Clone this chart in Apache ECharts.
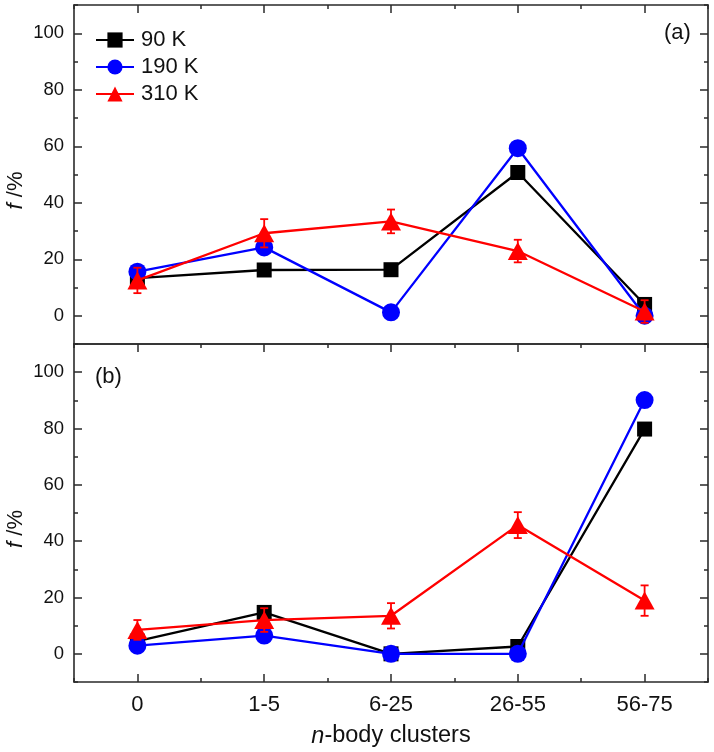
<!DOCTYPE html>
<html><head><meta charset="utf-8">
<script src="https://cdn.jsdelivr.net/npm/echarts@6/dist/echarts.min.js"></script>
<style>html,body{margin:0;padding:0;background:#fff}#c{width:714px;height:752px}</style>
</head><body><div id="c"></div>
<script>
// ---- data ----
const categories = ['0', '1-5', '6-25', '26-55', '56-75'];
const yTickLabels = ['0', '20', '40', '60', '80', '100'];
const seriesNames = ['90 K', '190 K', '310 K'];
// panel (a)
const a90 = [13.3, 16.2, 16.3, 50.7, 4.0];
const a190 = [15.6, 24.2, 1.2, 59.3, 0.0];
const a310 = [12.5, 29.2, 33.4, 22.9, 1.5];
const a310err = [4.5, 5.0, 4.2, 4.0, 4.0];
// panel (b)
const b90 = [4.5, 14.7, 0.0, 2.6, 79.8];
const b190 = [2.9, 6.5, 0.0, 0.0, 90.1];
const b310 = [8.5, 12.0, 13.5, 45.7, 18.9];
const b310err = [3.5, 4.2, 4.5, 4.6, 5.4];

const FONT = '"Liberation Sans", Arial, sans-serif';
const AX = '#2a2a2a';
const TXT = '#111';
const COLORS = ['#000000', '#0000ff', '#ff0000'];
const SYMBOLS = ['rect', 'circle', 'triangle'];
const SIZES = [15, 18, [20, 18]];

const chart = echarts.init(document.getElementById('c'), null, {renderer: 'canvas'});

const lineSty = {show: true, onZero: false, lineStyle: {color: AX, width: 1.6}};
function xa(grid, pos, kind, extra) {
  const major = kind === 'major';
  const o = {
    type: 'category', gridIndex: grid, position: pos, data: categories, boundaryGap: true,
    axisLine: kind === 'main' || major ? lineSty : {show: false, onZero: false},
    axisTick: kind === 'main' ? {show: false} :
      {show: true, inside: true, interval: 0, alignWithLabel: major, length: major ? 8 : 4, lineStyle: {color: AX, width: 1.5}},
    axisLabel: {show: false},
    splitLine: {show: false}
  };
  return Object.assign(o, extra || {});
}
function yv(grid, pos, extra) {
  return Object.assign({
    type: 'value', gridIndex: grid, position: pos, min: -10, max: 110, interval: 10,
    axisLine: lineSty,
    axisTick: {show: true, inside: true, length: 4, lineStyle: {color: AX, width: 1.5}},
    axisLabel: {show: false}, splitLine: {show: false}
  }, extra || {});
}
function yc(grid, pos, labels) {
  return {
    type: 'category', gridIndex: grid, position: pos, data: yTickLabels, boundaryGap: true,
    axisLine: {show: false, onZero: false},
    axisTick: {show: true, inside: true, alignWithLabel: true, interval: 0, length: 8, lineStyle: {color: AX, width: 1.5}},
    axisLabel: {show: labels, interval: 0, margin: 10, fontSize: 18.5, color: TXT, fontFamily: FONT},
    splitLine: {show: false}
  };
}
const yName = {
  name: '{i|f} /%', nameLocation: 'middle', nameGap: 47,
  nameTextStyle: {fontSize: 22, color: TXT, fontFamily: FONT, padding: [0, 32, 0, 0],
    rich: {i: {fontStyle: 'italic', fontSize: 22, color: TXT, fontFamily: FONT}}}
};

const xAxis = [
  xa(0, 'bottom', 'main'),
  xa(0, 'top', 'major'),
  xa(0, 'top', 'minor'),
  xa(1, 'bottom', 'major', {
    axisLabel: {show: true, interval: 0, margin: 12, fontSize: 22, color: TXT, fontFamily: FONT},
    name: '{i|n}-body clusters', nameLocation: 'middle', nameGap: 42,
    nameTextStyle: {fontSize: 23.5, color: TXT, fontFamily: FONT,
      rich: {i: {fontStyle: 'italic', fontSize: 23.5, color: TXT, fontFamily: FONT}}}
  }),
  xa(1, 'bottom', 'minor'),
  xa(1, 'top', 'major'),
  xa(1, 'top', 'minor')
];
const yAxis = [
  yv(0, 'left', yName), yc(0, 'left', true), yv(0, 'right'), yc(0, 'right', false),
  yv(1, 'left', yName), yc(1, 'left', true), yv(1, 'right'), yc(1, 'right', false)
];

function lineSeries(name, data, idx, xi, yi) {
  return {
    type: 'line', name: name, data: data, xAxisIndex: xi, yAxisIndex: yi,
    symbol: SYMBOLS[idx], symbolSize: SIZES[idx], showAllSymbol: true,
    itemStyle: {color: COLORS[idx]}, lineStyle: {color: COLORS[idx], width: 2.3},
    z: 2 + idx, animation: false
  };
}
function errSeries(means, errs, xi, yi) {
  return {
    type: 'custom', name: 'err', xAxisIndex: xi, yAxisIndex: yi, z: 6, animation: false,
    data: means.map((m, i) => [i, m - errs[i], m + errs[i]]),
    renderItem(params, api) {
      const x = api.value(0);
      const lo = api.coord([x, api.value(1)]);
      const hi = api.coord([x, api.value(2)]);
      const hw = 4;
      const st = {stroke: '#ff0000', lineWidth: 1.8};
      return {type: 'group', children: [
        {type: 'line', shape: {x1: lo[0], y1: lo[1], x2: hi[0], y2: hi[1]}, style: st},
        {type: 'line', shape: {x1: lo[0] - hw, y1: lo[1], x2: lo[0] + hw, y2: lo[1]}, style: st},
        {type: 'line', shape: {x1: hi[0] - hw, y1: hi[1], x2: hi[0] + hw, y2: hi[1]}, style: st}
      ]};
    }
  };
}

const series = [
  lineSeries(seriesNames[0], a90, 0, 0, 0),
  lineSeries(seriesNames[1], a190, 1, 0, 0),
  lineSeries(seriesNames[2], a310, 2, 0, 0),
  errSeries(a310, a310err, 0, 0),
  lineSeries(seriesNames[0], b90, 0, 3, 4),
  lineSeries(seriesNames[1], b190, 1, 3, 4),
  lineSeries(seriesNames[2], b310, 2, 3, 4),
  errSeries(b310, b310err, 3, 4)
];

chart.setOption({
  animation: false,
  backgroundColor: '#fff',
  grid: [
    {left: 74, width: 634, top: 5, height: 339, outerBoundsMode: 'none', containLabel: false},
    {left: 74, width: 634, top: 344, height: 338, outerBoundsMode: 'none', containLabel: false}
  ],
  title: [
    {text: '(a)', left: 664, top: 22, padding: 0, textStyle: {fontSize: 22, fontWeight: 'normal', color: TXT, fontFamily: FONT}},
    {text: '(b)', left: 95, top: 366, padding: 0, textStyle: {fontSize: 22, fontWeight: 'normal', color: TXT, fontFamily: FONT}}
  ],
  legend: {
    data: seriesNames, orient: 'vertical', left: 95, top: 29, padding: 0,
    itemWidth: 38, itemHeight: 19, itemGap: 5,
    textStyle: {fontSize: 22, color: TXT, fontFamily: FONT, padding: [0, 0, 0, 2]},
    selectedMode: false
  },
  xAxis: xAxis,
  yAxis: yAxis,
  series: series
});
</script></body></html>
